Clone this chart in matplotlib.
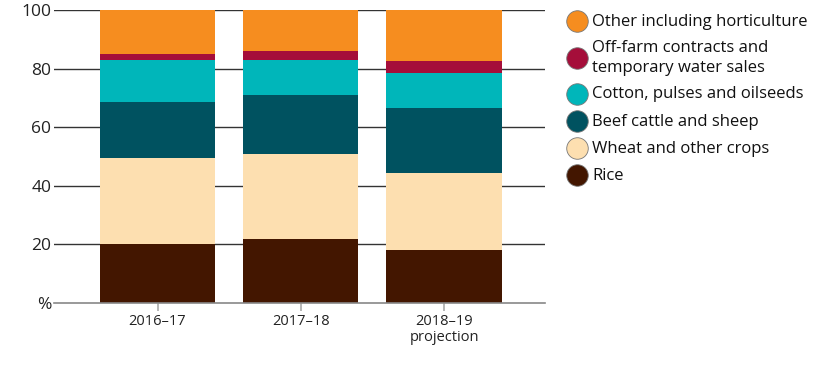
import matplotlib
matplotlib.use("Agg")
import matplotlib.pyplot as plt
from matplotlib.lines import Line2D
import numpy as np

plt.rcParams['font.family'] = ['Open Sans', 'DejaVu Sans']

# Data (share of value, %)
years = ["2016–17", "2017–18", "2018–19\nprojection"]
categories = ["Rice", "Wheat and other crops", "Beef cattle and sheep",
              "Cotton, pulses and oilseeds",
              "Off-farm contracts and\ntemporary water sales",
              "Other including horticulture"]
rice = [20.2, 21.9, 18.2]
wheat = [29.3, 29.1, 26.2]
beef = [19.2, 19.9, 22.2]
cotton = [14.1, 12.0, 12.0]
offfarm = [2.2, 3.0, 4.0]
other = [15.0, 14.1, 17.4]
colors = ["#431600", "#FDDFB0", "#005260", "#00B6BA", "#A50E3A", "#F68D1F"]

series = [rice, wheat, beef, cotton, offfarm, other]

W, H = 816, 366
fig = plt.figure(figsize=(W / 100, H / 100), dpi=100)
ax = fig.add_axes([54 / W, 1 - 303 / H, 491 / W, 293 / H])

x = np.arange(len(years))
bottom = np.zeros(len(years))
for vals, c in zip(series, colors):
    ax.bar(x, vals, width=0.803, bottom=bottom, color=c, zorder=3)
    bottom += np.array(vals)

ax.set_xlim(-0.7225, 2.705)
ax.set_ylim(0, 100)
ax.set_yticks([0, 20, 40, 60, 80, 100])
ax.set_yticklabels(["%", "20", "40", "60", "80", "100"], fontsize=12.5, color="#222222")
ax.tick_params(axis="y", length=0, pad=2)
for yv in [20, 40, 60, 80, 100]:
    ax.axhline(yv, color="#333333", linewidth=1, zorder=1)

ax.set_xticks(x)
ax.set_xticklabels(years, fontsize=10.5, color="#222222", linespacing=1.05)
ax.tick_params(axis="x", length=6, color="#aaaaaa", width=1.2, pad=2)

for s in ["top", "right", "left"]:
    ax.spines[s].set_visible(False)
ax.spines["bottom"].set_color("#888888")
ax.spines["bottom"].set_linewidth(1.2)
ax.spines["bottom"].set_zorder(4)

# legend, top to bottom, placed by hand
row_y = [21, 57.5, 94, 121, 148, 175]
for yp, lab, c in zip(row_y, categories[::-1], colors[::-1]):
    fig.add_artist(Line2D([577 / W], [1 - yp / H], marker="o", linestyle="none",
                          markersize=15.5, markerfacecolor=c,
                          markeredgecolor="#777777", markeredgewidth=0.6,
                          transform=fig.transFigure))
    fig.text(592 / W, 1 - (yp + 0.5) / H, lab, fontsize=12, color="#111111",
             va="center", ha="left", linespacing=1.25)

fig.savefig("out.png", dpi=100)
